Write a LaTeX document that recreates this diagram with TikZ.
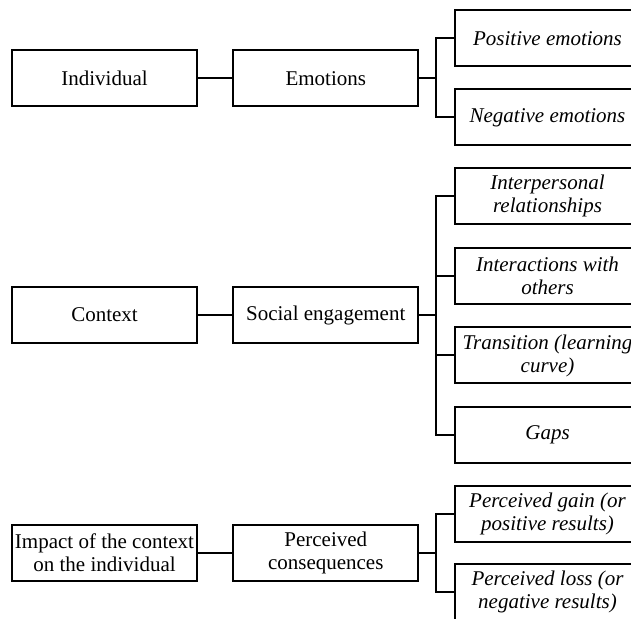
\documentclass[tikz,border=0pt]{standalone}
\usepackage{fontspec}
\setmainfont{Liberation Serif}
\tikzset{
	box/.style={draw, line width=1pt, minimum width=92.5pt, minimum height=28pt, inner xsep=1pt, inner ysep=1pt, align=center, font=\fontsize{10.5}{11.5}\selectfont},
	leaf/.style={box, font=\fontsize{10.5}{11.5}\selectfont\itshape},
	link/.style={line width=1pt}
}
\begin{document}
\begin{tikzpicture}[x=0.5pt, y=-0.5pt]
				\clip (0,0) rectangle (631,619);
				% first row
				\node[box] (ind) at (104.5,78.5) {Individual};
				\node[box] (emo) at (325.75,78.5) {Emotions};
				\node[leaf] (pos) at (547.5,38.5) {Positive emotions};
				\node[leaf] (neg) at (547.5,117.5) {Negative emotions};
				% second row
				\node[box] (ctx) at (104.5,315) {Context};
				\node[box] (soc) at (325.75,315) {Social engagement};
				\node[leaf] (ipr) at (547.5,196) {Interpersonal\\relationships};
				\node[leaf] (iwo) at (547.5,276) {Interactions with\\others};
				\node[leaf] (tra) at (547.5,355.5) {Transition (learning\\curve)};
				\node[leaf] (gap) at (547.5,435) {Gaps};
				% third row
				\node[box, inner xsep=0pt] (imp) at (104.5,553) {Impact of the context\\on the individual};
				\node[box] (pcq) at (325.75,553) {Perceived\\consequences};
				\node[leaf] (gain) at (547.5,513.5) {Perceived gain (or\\positive results)};
				\node[leaf] (loss) at (547.5,592) {Perceived loss (or\\negative results)};
				% connectors
				\draw[link] (ind) -- (emo);
				\draw[link] (ctx) -- (soc);
				\draw[link] (imp) -- (pcq);
				\draw[link] (emo.east) -- ++(17,0) coordinate (j1);
				\draw[link] (soc.east) -- ++(17,0) coordinate (j2);
				\draw[link] (pcq.east) -- ++(17,0) coordinate (j3);
				\foreach \leaf in {pos,neg}	\draw[link] (j1) |- (\leaf.west);
				\foreach \leaf in {ipr,iwo,tra,gap}	\draw[link] (j2) |- (\leaf.west);
				\foreach \leaf in {gain,loss}	\draw[link] (j3) |- (\leaf.west);
			\end{tikzpicture}
\end{document}
